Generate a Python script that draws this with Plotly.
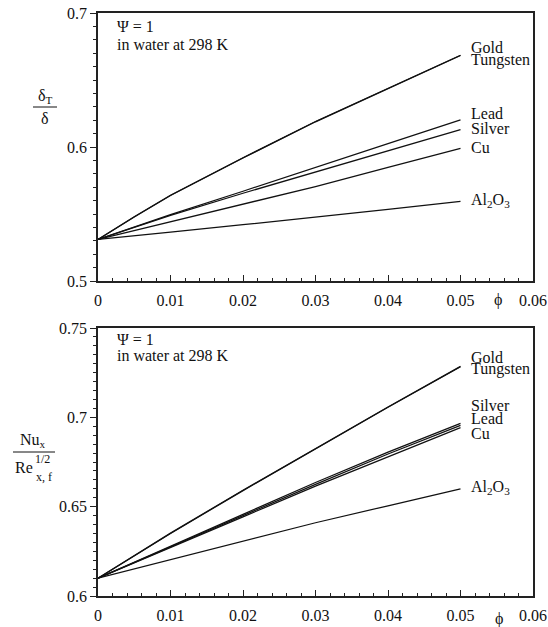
import plotly.graph_objects as go

# ---------------- data ----------------
phi = [0, 0.005, 0.01, 0.02, 0.03, 0.04, 0.05]

# top panel: delta_T / delta
dt_gold     = [0.531, 0.548, 0.564, 0.592, 0.619, 0.644, 0.6685]
dt_tungsten = [0.531, 0.5478, 0.5638, 0.5918, 0.6188, 0.6438, 0.6683]
dt_lead     = [0.531, 0.5405, 0.5495, 0.567, 0.5845, 0.6025, 0.6203]
dt_silver   = [0.531, 0.5402, 0.549, 0.5655, 0.5815, 0.5975, 0.613]
dt_cu       = [0.531, 0.5375, 0.544, 0.557, 0.5705, 0.5848, 0.599]
dt_al2o3    = [0.531, 0.534, 0.5365, 0.542, 0.5475, 0.5535, 0.5595]

# bottom panel: Nu_x / Re_x,f^(1/2)
nu_gold     = [0.61, 0.6228, 0.6352, 0.6592, 0.6827, 0.7058, 0.7285]
nu_tungsten = [0.61, 0.6227, 0.6350, 0.6590, 0.6825, 0.7056, 0.7283]
nu_silver   = [0.61, 0.619, 0.628, 0.6457, 0.6635, 0.6805, 0.6966]
nu_lead     = [0.61, 0.6188, 0.6275, 0.645, 0.6625, 0.6795, 0.6955]
nu_cu       = [0.61, 0.6185, 0.627, 0.6443, 0.6615, 0.678, 0.6942]
nu_al2o3    = [0.61, 0.6152, 0.6205, 0.631, 0.641, 0.6505, 0.66]

names_html = {"Gold": "Gold", "Tungsten": "Tungsten", "Lead": "Lead",
              "Silver": "Silver", "Cu": "Cu", "Al2O3": "Al<sub>2</sub>O<sub>3</sub>"}

x_tickvals = [0, 0.01, 0.02, 0.03, 0.04, 0.05, 0.06]
x_ticktext = ["0", "0.01", "0.02", "0.03", "0.04", "0.05", "0.06"]
top_tickvals = [0.5, 0.6, 0.7]
top_ticktext = ["0.5", "0.6", "0.7"]
bot_tickvals = [0.6, 0.65, 0.7, 0.75]
bot_ticktext = ["0.6", "0.65", "0.7", "0.75"]

# ---------------- figure ----------------
W, H = 548, 627
L, R, T, B = 98, 15, 13, 31
PW, PH = W - L - R, H - T - B

def px(xp, yp):
    return (xp - L) / PW, (H - B - yp) / PH

FONT = "Liberation Serif"
INK = "#111111"

fig = go.Figure()

top_series = [("Gold", dt_gold), ("Tungsten", dt_tungsten), ("Lead", dt_lead),
              ("Silver", dt_silver), ("Cu", dt_cu), ("Al2O3", dt_al2o3)]
bot_series = [("Gold", nu_gold), ("Tungsten", nu_tungsten), ("Silver", nu_silver),
              ("Lead", nu_lead), ("Cu", nu_cu), ("Al2O3", nu_al2o3)]

for name, ys in top_series:
    fig.add_trace(go.Scatter(x=phi, y=ys, mode="lines", name=name,
                             line=dict(color=INK, width=1.25),
                             xaxis="x", yaxis="y", showlegend=False))
for name, ys in bot_series:
    fig.add_trace(go.Scatter(x=phi, y=ys, mode="lines", name=name,
                             line=dict(color=INK, width=1.25),
                             xaxis="x2", yaxis="y2", showlegend=False))

top_dom = [px(0, 281)[1], px(0, 13)[1]]
bot_dom = [px(0, 596)[1], px(0, 328)[1]]

axis_common = dict(showline=True, linecolor="#222", linewidth=1.5, mirror=True,
                   showgrid=False, zeroline=False, automargin=False,
                   tickfont=dict(family=FONT, size=16, color=INK), tickcolor="#222")

xcfg = dict(range=[0, 0.06], tickmode="array", tickvals=x_tickvals, ticktext=x_ticktext,
            ticks="inside", ticklen=6, tickwidth=1.2,
            minor=dict(dtick=0.002, ticks="inside", ticklen=3, tickcolor="#222", tickwidth=1),
            ticklabelstandoff=4, **axis_common)

fig.update_layout(
    width=W, height=H, autosize=False,
    margin=dict(l=L, r=R, t=T, b=B, autoexpand=False),
    plot_bgcolor="white", paper_bgcolor="white",
    font=dict(family=FONT, color=INK, size=16),
    xaxis=dict(domain=[0, 1], anchor="y", **xcfg),
    yaxis=dict(domain=top_dom, anchor="x", range=[0.5, 0.7], tickmode="array",
               tickvals=top_tickvals, ticktext=top_ticktext,
               ticks="outside", ticklen=6, tickwidth=1.2,
               minor=dict(dtick=0.01, tick0=0.5, ticks="outside", ticklen=3, tickcolor="#222", tickwidth=1),
               **axis_common),
    xaxis2=dict(domain=[0, 1], anchor="y2", **xcfg),
    yaxis2=dict(domain=bot_dom, anchor="x2", range=[0.6, 0.75], tickmode="array",
                tickvals=bot_tickvals, ticktext=bot_ticktext,
                ticks="outside", ticklen=6, tickwidth=1.2,
                minor=dict(dtick=0.005, tick0=0.6, ticks="outside", ticklen=3, tickcolor="#222", tickwidth=1),
                **axis_common),
)

ann = []
def text(xp, yp, s, size=16, xanchor="left"):
    x, y = px(xp, yp)
    ann.append(dict(x=x, y=y, xref="paper", yref="paper", text=s, showarrow=False,
                    xanchor=xanchor, yanchor="middle",
                    font=dict(family=FONT, size=size, color=INK)))

# notes
text(115, 27, "Ψ = 1")
text(115, 44, "in water at 298 K")
text(115, 339, "Ψ = 1")
text(115, 356, "in water at 298 K")

# curve labels (pixel y positions of the labels)
LX = 469
for name, yp in [("Gold", 47), ("Tungsten", 60), ("Lead", 113), ("Silver", 128),
                 ("Cu", 147), ("Al2O3", 201)]:
    text(LX, yp, names_html[name])
for name, yp in [("Gold", 357), ("Tungsten", 369), ("Silver", 405), ("Lead", 419),
                 ("Cu", 433), ("Al2O3", 487)]:
    text(LX, yp, names_html[name])

# phi axis labels
text(498, 300, "ϕ", xanchor="center")
text(499, 619, "ϕ", xanchor="center")

# y titles as fractions
text(45, 96, "δ<sub>T</sub>", xanchor="center")
text(45, 119, "δ", xanchor="center")
text(33, 441, "Nu<sub>x</sub>", xanchor="center")
text(24, 468, "Re", xanchor="center")
text(43, 459, "1/2", size=12, xanchor="center")
text(44, 477, "x, f", size=12, xanchor="center")

fig.update_layout(annotations=ann)

shapes = []
for (x0, x1, yp) in [(33, 57, 107), (13, 55, 452)]:
    a = px(x0, yp); b = px(x1, yp)
    shapes.append(dict(type="line", xref="paper", yref="paper",
                       x0=a[0], x1=b[0], y0=a[1], y1=b[1],
                       line=dict(color=INK, width=1)))
fig.update_layout(shapes=shapes)

fig.write_html(
    "out.html",
    config={"displayModeBar": False},
    post_script=(
        "document.body.style.margin='0';document.body.style.overflow='hidden';"
        "var gd=document.getElementById('{plot_id}');"
        "gd.style.position='fixed';gd.style.top='0px';gd.style.left='0px';"
    ),
)
